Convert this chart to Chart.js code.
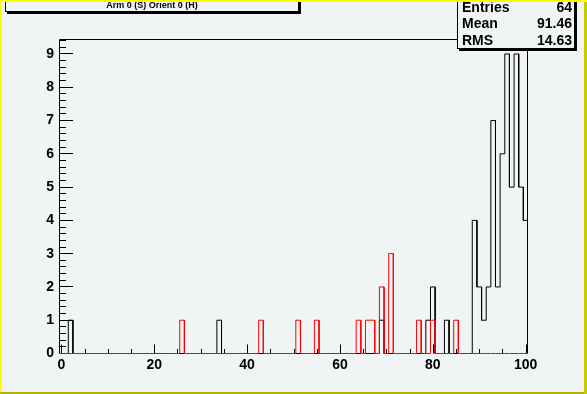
<!DOCTYPE html>
<html>
<head>
<meta charset="utf-8">
<script src="https://cdn.jsdelivr.net/npm/chart.js@4/dist/chart.umd.min.js"></script>
<style>
  html, body { margin: 0; padding: 0; background: #f1f4f4; }
  canvas { display: block; }
</style>
</head>
<body>
<canvas id="hist" width="587" height="394"></canvas>
<script>
// one-unit bins centred on 0..100, only the filled ones are listed
const blackBins = [2, 34, 69, 79, 80, 83, 89, 90, 91, 92, 93, 94, 95, 96, 97, 98, 99, 100];
const blackCounts = [1, 1, 1, 1, 2, 1, 4, 2, 1, 2, 7, 2, 6, 9, 5, 9, 5, 4];
const redBins = [26, 43, 51, 55, 64, 66, 67, 69, 71, 77, 80, 85];
const redCounts = [1, 1, 1, 1, 1, 1, 1, 2, 3, 1, 1, 1];

const xTicks = [0, 20, 40, 60, 80, 100];
const yTicks = [0, 1, 2, 3, 4, 5, 6, 7, 8, 9];

const titleText = 'Arm 0 (S) Orient 0 (H)';
const statNames = ['Entries', 'Mean', 'RMS'];
const statValues = ['64', '91.46', '14.63'];

const BG = '#f1f4f4';
const FONT = '"Liberation Sans", Arial, sans-serif';

// histogram outline: every bin gives its two edges
const outline = (bins, counts) => {
  let pts = [];
  for (let k = 0; k <= 100; k++) {
    let i = bins.indexOf(k);
    let v = i >= 0 ? counts[i] : 0;
    pts.push({ x: k - 0.5, y: v }, { x: k + 0.5, y: v });
  }
  return pts;
};

const rootLook = {
  id: 'rootLook',
  beforeDraw(chart) {
    const c = chart.ctx;
    c.save();
    c.fillStyle = BG;
    c.fillRect(0, 0, chart.width, chart.height);
    c.restore();
  },
  beforeDatasetsDraw(chart) {
    // frame and ticks go under the histograms
    const c = chart.ctx;
    const a = chart.chartArea;
    const xs = chart.scales.x, ys = chart.scales.y;
    c.save();
    c.strokeStyle = '#000';
    c.lineWidth = 1;
    c.beginPath();
    c.moveTo(a.left + 0.5, a.bottom);
    c.lineTo(a.left + 0.5, a.top + 0.5);
    c.lineTo(a.right - 0.5, a.top + 0.5);
    c.lineTo(a.right - 0.5, a.bottom);
    // x ticks, up from the bottom
    for (let v = 0; v <= 100; v += 5) {
      let px = Math.round(xs.getPixelForValue(v)) + 0.5;
      let len = xTicks.includes(v) ? 9 : 4.5;
      c.moveTo(px, a.bottom);
      c.lineTo(px, a.bottom - len);
    }
    // y ticks, right from the axis
    for (let i = 0; i <= 47; i++) {
      let v = i * 0.2;
      let py = Math.round(ys.getPixelForValue(v) - 0.5) + 0.5;
      let len = i % 5 === 0 ? 14 : 7;
      c.moveTo(a.left, py);
      c.lineTo(a.left + len, py);
    }
    c.stroke();
    c.restore();
  },
  afterDraw(chart) {
    const c = chart.ctx;
    c.save();
    // title pave
    c.fillStyle = '#000';
    c.fillRect(7, 1, 294, 13);
    c.fillStyle = BG;
    c.fillRect(5, -1, 294, 13);
    c.strokeStyle = '#000';
    c.lineWidth = 1;
    c.strokeRect(5.5, -1.5, 293, 13);
    c.fillStyle = '#000';
    c.font = 'bold 9px ' + FONT;
    c.textAlign = 'center';
    c.textBaseline = 'middle';
    c.fillText(titleText, 152, 6);

    // stats pave
    c.fillStyle = '#000';
    c.fillRect(459, 1, 118, 50);
    c.fillStyle = BG;
    c.fillRect(457, -1, 118, 50);
    c.strokeRect(457.5, -1.5, 117, 50);
    c.fillStyle = '#000';
    c.font = 'bold 14px ' + FONT;
    c.textBaseline = 'middle';
    statNames.forEach((n, i) => {
      let y = 8 + i * 16.5;
      c.textAlign = 'left';
      c.fillText(n, 462, y);
      c.textAlign = 'right';
      c.fillText(statValues[i], 572, y);
    });

    // canvas bevel
    c.fillStyle = '#ffff00';
    c.fillRect(0, 0, chart.width, 2);
    c.fillRect(0, 0, 2, chart.height);
    c.fillStyle = '#b4b400';
    c.fillRect(0, chart.height - 2, chart.width, 2);
    c.fillStyle = '#c8c800';
    c.fillRect(chart.width - 3, 2, 3, chart.height - 2);
    c.restore();
  }
};

new Chart(document.getElementById('hist'), {
  type: 'line',
  data: {
    datasets: [{
      label: 'red',
      data: outline(redBins, redCounts),
      borderColor: '#ff0000',
      borderWidth: 1,
      pointRadius: 0,
      tension: 0,
      fill: false,
      clip: false,
      order: 1
    }, {
      label: 'black',
      data: outline(blackBins, blackCounts),
      borderColor: '#000000',
      borderWidth: 1,
      pointRadius: 0,
      tension: 0,
      fill: false,
      clip: false,
      order: 2
    }]
  },
  options: {
    responsive: false,
    animation: false,
    events: [],
    layout: { padding: { left: 0, top: 39, right: 59, bottom: 0 } },
    plugins: { legend: { display: false }, tooltip: { enabled: false } },
    scales: {
      x: {
        type: 'linear',
        min: -0.5,
        max: 100.5,
        afterBuildTicks: s => { s.ticks = xTicks.map(v => ({ value: v })); },
        afterFit: s => { s.height = 40.5; },
        grid: { display: false, drawTicks: false },
        border: { display: false },
        ticks: {
          color: '#000',
          padding: 3,
          maxRotation: 0,
          autoSkip: false,
          font: { family: FONT, size: 14, weight: 'bold' }
        }
      },
      y: {
        type: 'linear',
        min: 0,
        max: 9.45,
        afterBuildTicks: s => { s.ticks = yTicks.map(v => ({ value: v })); },
        afterFit: s => { s.width = 59; },
        grid: { display: false, drawTicks: false },
        border: { display: false },
        ticks: {
          color: '#000',
          padding: 5,
          autoSkip: false,
          font: { family: FONT, size: 14, weight: 'bold' }
        }
      }
    }
  },
  plugins: [rootLook]
});
</script>
</body>
</html>
